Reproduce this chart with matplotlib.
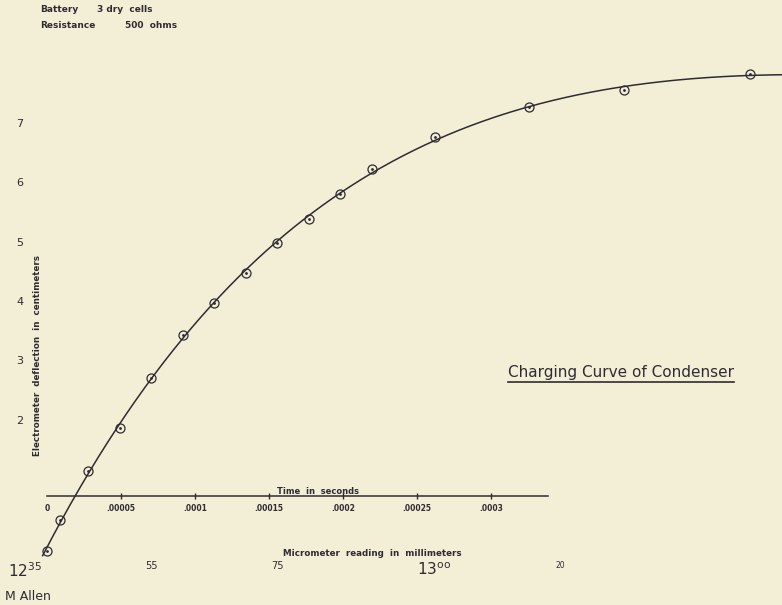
import numpy as np
import matplotlib.pyplot as plt

# micrometer reading (mm) against electrometer deflection (cm)
reading = [12.385, 12.405, 12.45, 12.50, 12.55, 12.60, 12.65, 12.70, 12.75,
           12.80, 12.85, 12.90, 13.00, 13.15, 13.30, 13.50]
deflection = [-0.21, 0.31, 1.14, 1.86, 2.70, 3.43, 3.97, 4.47, 4.98,
              5.38, 5.80, 6.22, 6.76, 7.27, 7.55, 7.82]

defl_ticks = [2, 3, 4, 5, 6, 7]
reading_ticks = [12.35, 12.55, 12.75, 13.00, 13.20]
reading_labels = [r'$12^{35}$', '55', '75', r'$13^{\mathrm{oo}}$', '20']
time_ticks = [0, 0.00005, 0.0001, 0.00015, 0.0002, 0.00025, 0.0003]
time_labels = ['0', '.00005', '.0001', '.00015', '.0002', '.00025', '.0003']

W, H = 782, 605
paper = '#f3efd6'
ink = '#2f2b33'


def fx(px):
    return px / W


def fy(py):
    return 1 - py / H


# smooth curve through the points: a + b*exp(-x/t1) + c*exp(-x/t2)
x = np.array(reading)
y = np.array(deflection)
best = None
taus = np.linspace(0.05, 2.0, 120)
for i, t1 in enumerate(taus):
    for t2 in taus[i + 1:]:
        A = np.column_stack([np.ones_like(x), np.exp(-(x - x[0]) / t1),
                             np.exp(-(x - x[0]) / t2)])
        coef = np.linalg.lstsq(A, y, rcond=None)[0]
        err = np.sum((A @ coef - y) ** 2)
        if best is None or err < best[0]:
            best = (err, t1, t2, coef)
_, t1, t2, coef = best


def curve(v):
    d = v - x[0]
    return coef[0] + coef[1] * np.exp(-d / t1) + coef[2] * np.exp(-d / t2)


fig = plt.figure(figsize=(W / 100, H / 100), dpi=100, facecolor=paper)
ax = fig.add_axes([0, 0, 1, 1])
ax.set_facecolor(paper)
ax.set_xlim(12.35 - 25 / 630, 12.35 + 757 / 630)
ax.set_ylim(4.5 - (H - 271.3) / 59.4, 4.5 + 271.3 / 59.4)
ax.set_xticks([])
ax.set_yticks([])
for s in ax.spines.values():
    s.set_visible(False)

xs = np.linspace(12.378, 13.56, 400)
ax.plot(xs, curve(xs), color=ink, lw=1.1)
ax.plot(reading, deflection, 'o', ms=6.5, mfc='none', mec=ink, mew=0.9)
ax.plot(reading, deflection, '.', ms=2, color=ink)

# deflection scale (numbers only)
sy = ax.secondary_yaxis(26 / W)
sy.set_yticks(defl_ticks)
sy.tick_params(length=0, pad=2, labelsize=8, labelcolor=ink)
for s in sy.spines.values():
    s.set_visible(False)

# micrometer scale along the bottom
sx = ax.secondary_xaxis((H - 561) / H)
sx.set_xticks(reading_ticks, reading_labels)
sx.tick_params(length=0, pad=0, labelcolor=ink)
for lab, size in zip(sx.get_xticklabels(), [11, 7, 7, 11, 5.5]):
    lab.set_fontsize(size)
for s in sx.spines.values():
    s.set_visible(False)

# time axis drawn across the curve
at = fig.add_axes([fx(47), fy(496), fx(548) - fx(47), 0.0001])
at.patch.set_visible(False)
at.set_xlim(0, (548 - 47) / 74 * 0.00005)
at.set_yticks([])
for side in ['top', 'left', 'right']:
    at.spines[side].set_visible(False)
at.spines['bottom'].set_color(ink)
at.spines['bottom'].set_linewidth(1.1)
at.set_xticks(time_ticks, time_labels)
at.tick_params(direction='inout', length=5, width=1, color=ink,
               labelsize=5.5, labelcolor=ink, pad=3)
for lab in at.get_xticklabels():
    lab.set_fontweight('bold')
at.xaxis.get_major_ticks()[0].tick1line.set_visible(False)
at.text(0.000183, 0.5, 'Time  in  seconds', transform=at.get_xaxis_transform(),
        ha='center', va='bottom', fontsize=6, fontweight='bold', color=ink)

# texts
fig.text(fx(40), fy(10), 'Battery', fontsize=6.5, fontweight='bold', color=ink, va='center')
fig.text(fx(97), fy(10), '3 dry  cells', fontsize=6.5, fontweight='bold', color=ink, va='center')
fig.text(fx(40), fy(25), 'Resistance', fontsize=6.5, fontweight='bold', color=ink, va='center')
fig.text(fx(125), fy(25), '500  ohms', fontsize=6.5, fontweight='bold', color=ink, va='center')
fig.text(fx(38), fy(355), 'Electrometer  deflection  in  centimeters', rotation=90,
         ha='center', va='center', fontsize=6.3, fontweight='bold', color=ink)
fig.text(fx(372), fy(553), 'Micrometer  reading  in  millimeters', ha='center',
         va='center', fontsize=6.3, fontweight='bold', color=ink)
fig.text(fx(5), fy(596), 'M Allen', ha='left', va='center', fontsize=9, color=ink)

title = fig.text(fx(621), fy(372), 'Charging Curve of Condenser', ha='center',
                 va='center', fontsize=11, color=ink)
fig.canvas.draw()
bb = title.get_window_extent().transformed(fig.transFigure.inverted())
fig.add_artist(plt.Line2D([bb.x0, bb.x1], [bb.y0 - 2 / H] * 2,
                          transform=fig.transFigure, color=ink, lw=1.2))

fig.savefig('out.png', dpi=100, facecolor=paper)
